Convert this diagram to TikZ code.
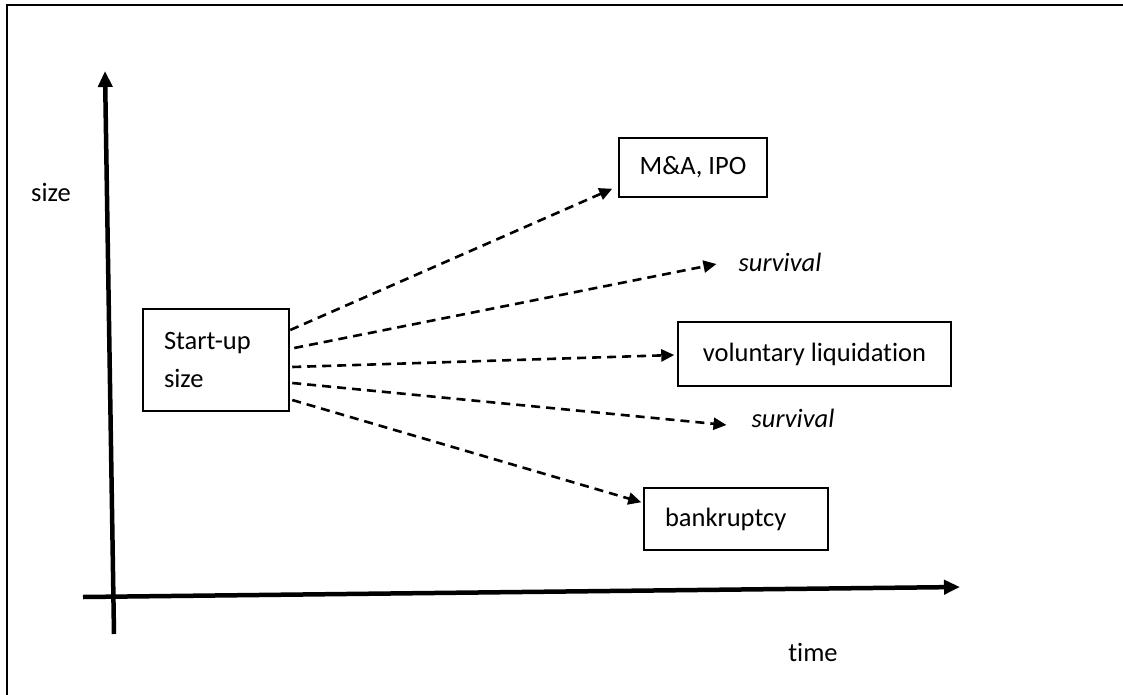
\documentclass[tikz,border=0pt]{standalone}
\usepackage{fontspec}
\setmainfont{Carlito}[Ligatures=NoCommon]
\usetikzlibrary{arrows.meta}
\begin{document}
\begin{tikzpicture}[x=1pt,y=-1pt,
  every node/.style={font=\fontsize{26.5}{38}\selectfont},
  box/.style={draw,line width=1.5pt,inner sep=0pt},
  lbl/.style={inner sep=0pt},
  axis/.style={line width=4.5pt,-{Triangle[length=16pt,width=14pt]}},
  dashedarrow/.style={line width=2.6pt,dash pattern=on 9pt off 6pt,-{Triangle[length=13pt,width=12pt]}}]
\useasboundingbox (0,0) rectangle (1123,695);
% frame
\draw[line width=2pt] (1123,5) -- (7,5) -- (7,695);
% axes
\coordinate (yb) at (114,634);
\coordinate (yt) at (105,71);
\coordinate (xl) at (83,597);
\coordinate (xr) at (960,587);
\draw[axis] (yb) -- (yt);
\draw[axis] (xl) -- (xr);
\node[lbl] (sizel) at (51,192) {size};
\node[lbl] (timel) at (813,652) {time};
% boxes
\node[box,line width=2.5pt,minimum width=146pt,minimum height=102pt,text width=104pt,align=left,inner xsep=21pt] (su) at (216,360) {Start-up\\size};
\node[box,minimum width=148pt,minimum height=59pt] (ma) at (693,167.5) {M\&A, IPO};
\node[box,minimum width=273pt,minimum height=64pt] (vl) at (814.5,354) {voluntary liquidation};
\node[box,minimum width=184pt,minimum height=62pt,text width=142pt,align=left,inner xsep=21pt] (bk) at (736,519) {bankruptcy};
\node[lbl,font=\fontsize{26.5}{38}\selectfont\itshape] (s1) at (780,262) {survival};
\node[lbl,font=\fontsize{26.5}{38}\selectfont\itshape] (s2) at (793,418) {survival};
% arrows
\draw[dashedarrow] ([yshift=30pt]su.east) -- ([xshift=-6pt,yshift=9pt]ma.south west);
\draw[dashedarrow] ([xshift=4pt,yshift=12pt]su.east) -- ([xshift=-22pt,yshift=-2pt]s1.west);
\draw[dashedarrow] ([xshift=2pt,yshift=-7pt]su.east) -- ([xshift=-3pt,yshift=-1pt]vl.west);
\draw[dashedarrow] ([xshift=2pt,yshift=-23pt]su.east) -- ([xshift=-25pt,yshift=-7pt]s2.west);
\draw[dashedarrow] ([xshift=2pt,yshift=-40pt]su.east) -- ([xshift=-2pt,yshift=-15pt]bk.north west);
\end{tikzpicture}
\end{document}
